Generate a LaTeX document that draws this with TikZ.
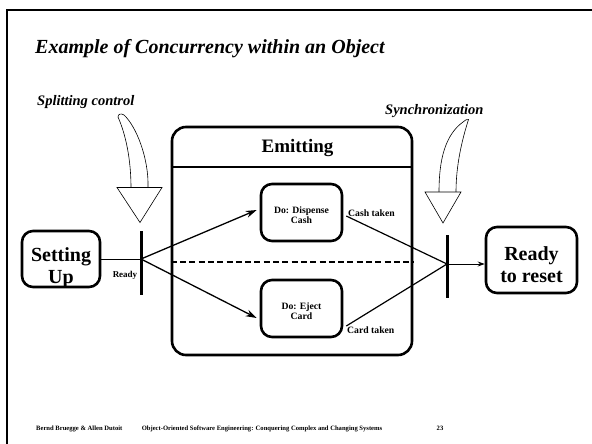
\documentclass[tikz,border=0pt]{standalone}
\usepackage{fontspec}
\setmainfont{Liberation Serif}
\usetikzlibrary{arrows.meta}
\begin{document}
\begin{tikzpicture}[x=1pt,y=-1pt,
  state/.style={draw, line width=2.6pt, rounded corners=11pt, inner sep=0pt},
  bigtxt/.style={font=\bfseries\fontsize{20}{22}\selectfont, align=center, inner sep=0pt},
  smalltxt/.style={font=\bfseries\fontsize{9.7}{10}\selectfont, align=center, inner sep=0pt},
  syncbar/.style={fill=black, inner sep=0pt, minimum width=3pt},
  flow/.style={line width=1.3pt, -{Stealth[length=11pt,width=7pt]}},
  plain/.style={line width=1pt},
  note/.style={font=\bfseries\itshape\fontsize{14.5}{16}\selectfont, inner sep=0pt, anchor=base west},
  hint/.style={line width=0.6pt, fill=white},
  foot/.style={font=\bfseries\fontsize{6.6}{7}\selectfont, inner sep=0pt, anchor=base}]
\useasboundingbox (0,0) rectangle (592,444);

% slide frame
\draw[line width=2pt] (7,444) -- (7,10) -- (592,10);

% title
\node[font=\bfseries\itshape\fontsize{20}{24}\selectfont, inner sep=0pt, anchor=base west] (title) at (35,54) {Example of Concurrency within an Object};

% superstate
\node[state, rounded corners=14pt, minimum width=240pt, minimum height=228pt] (emitting) at (292,241) {};
\node[font=\bfseries\fontsize{19}{21}\selectfont, inner sep=0pt, anchor=base] (emittitle) at (297.5,152) {Emitting};
\draw[line width=1.3pt] ([yshift=74pt]emitting.west) -- ([yshift=74pt]emitting.east);
\draw[line width=2.8pt, dash pattern=on 6pt off 3.3pt] ([yshift=-21pt]emitting.west) -- ([yshift=-21pt]emitting.east);

% substates
\node[state, minimum width=81pt, minimum height=57pt] (dispense) at (301.5,212.5) {};
\node[smalltxt] (dispensetxt) at (301.5,215.5) {Do: Dispense\\Cash};
\node[state, minimum width=81pt, minimum height=57pt] (eject) at (301.5,308.5) {};
\node[smalltxt] (ejecttxt) at (301.5,311.5) {Do: Eject\\Card};

% outer states
\node[state, minimum width=78pt, minimum height=56pt] (setup) at (61,259) {};
\node[bigtxt] (setuptxt) at (61,268) {Setting\\Up};
\node[state, minimum width=91pt, minimum height=66pt] (ready) at (531.5,260) {};
\node[bigtxt] (readytxt) at (531.5,265) {Ready\\to reset};

% fork and join bars
\node[syncbar, minimum height=64pt] (fork) at (141,263) {};
\node[syncbar, minimum height=63pt] (join) at (447,266.5) {};

% transitions
\draw[plain] (setup.east) -- (setup.east -| fork.center);
\node[smalltxt, font=\bfseries\fontsize{9}{10}\selectfont] (readylbl) at (125,275) {Ready};
\draw[flow] ([yshift=4pt]fork.center) -- ([xshift=-3pt,yshift=2.5pt]dispense.west);
\draw[flow] ([yshift=4pt]fork.center) -- ([xshift=-3pt,yshift=-9.5pt]eject.west);
\draw[line width=1.2pt] ([xshift=3pt,yshift=-3.5pt]dispense.east) -- ([yshift=2.5pt]join.center);
\draw[line width=1.2pt] ([xshift=3pt,yshift=-17.5pt]eject.east) -- ([yshift=2.5pt]join.center);
\draw[plain, -{Stealth[length=7pt,width=5pt]}] ([yshift=2.5pt]join.center) -- ([yshift=2.5pt]join.center -| ready.west);
\node[smalltxt, anchor=base west] (cashlbl) at (348,216) {Cash taken};
\node[smalltxt, anchor=base west] (cardlbl) at (347,333) {Card taken};

% annotations with hollow block arrows
\node[note] (splitnote) at (37,106) {Splitting control};
\draw[hint] (131,188) .. controls (131,160) and (126,135) .. (118,117)
  .. controls (118,114) and (121,113) .. (124,115)
  .. controls (136,126) and (149,158) .. (148,188);
\draw[hint] (117,187.5) -- (162,187.5) -- (140,222.5) -- cycle;

\node[note] (syncnote) at (385,114) {Synchronization};
\draw[hint] (439,192) .. controls (439,160) and (445,135) .. (463,122)
  .. controls (465,120) and (467,119) .. (468.5,119.5)
  .. controls (462,140) and (456,165) .. (456,192);
\draw[hint] (425,192) -- (461,192) -- (443,223) -- cycle;

% footer
\node[foot, anchor=base west] (authors) at (36,430) {Bernd Bruegge \& Allen Dutoit};
\node[foot] (book) at (262,430) {Object-Oriented Software Engineering: Conquering Complex and Changing Systems};
\node[foot] (page) at (440,430) {23};
\end{tikzpicture}
\end{document}
